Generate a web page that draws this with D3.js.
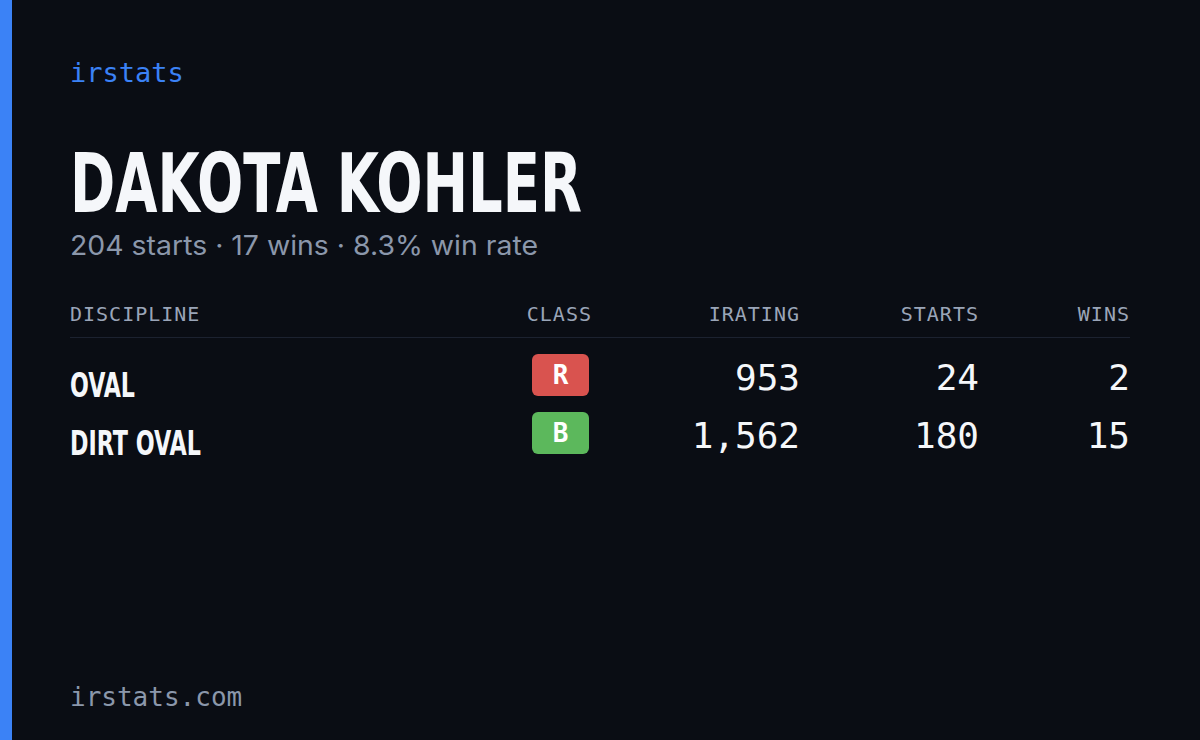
<!DOCTYPE html><html><head><meta charset="utf-8"><script src="https://cdn.jsdelivr.net/npm/d3@7"></script>
<style>body{margin:0;background:#0a0d14}</style></head><body><svg id="c" width="1200" height="740"></svg>
<script>
const brand="irstats", driver="DAKOTA KOHLER", summary="204 starts · 17 wins · 8.3% win rate", footer="irstats.com";
const headers=["DISCIPLINE","CLASS","IRATING","STARTS","WINS"];
const disciplines=["OVAL","DIRT OVAL"];
const classes=["R","B"];
const iratings=[953,1562];
const starts=[24,180];
const wins=[2,15];
const classColors={R:"#d9534f",B:"#5cb85c"};
const svg=d3.select("#c");
const mono="'DejaVu Sans Mono', monospace", cond="'DejaVu Sans Condensed','Liberation Sans',sans-serif";
svg.append("rect").attr("width",1200).attr("height",740).attr("fill","#0a0d14");
svg.append("rect").attr("width",12).attr("height",740).attr("fill","#3b82f6");
svg.append("text").attr("x",70).attr("y",82).text(brand).attr("fill","#3b82f6").attr("font-family",mono).attr("font-size",27);
svg.append("text").attr("x",70).attr("y",212).text(driver).attr("fill","#f5f7fa").attr("font-family",cond).attr("font-weight","bold").attr("font-size",82).attr("textLength",512).attr("lengthAdjust","spacingAndGlyphs");
svg.append("text").attr("x",70).attr("y",255).text(summary).attr("fill","#8b97ab").attr("font-family","Inter, sans-serif").attr("font-size",27).attr("textLength",468).attr("lengthAdjust","spacingAndGlyphs");
const hx=[70,592,800,979,1130], anchors=["start","end","end","end","end"];
headers.forEach((h,i)=>svg.append("text").attr("x",hx[i]).attr("y",321).text(h).attr("text-anchor",anchors[i]).attr("fill","#9aa5b8").attr("font-family",mono).attr("font-size",20).attr("letter-spacing",1));
svg.append("line").attr("x1",70).attr("x2",1130).attr("y1",337.5).attr("y2",337.5).attr("stroke","#1c2230");
const y=d3.scalePoint().domain(disciplines).range([375,433]);
const labelW=[65,131];
const fmt=d3.format(",");
disciplines.forEach((d,i)=>{
  const cy=y(d);
  svg.append("text").attr("x",70).attr("y",cy+22).text(d).attr("fill","#f5f7fa").attr("font-family",cond).attr("font-weight","bold").attr("font-size",33).attr("textLength",labelW[i]).attr("lengthAdjust","spacingAndGlyphs");
  svg.append("rect").attr("x",532).attr("y",cy-21).attr("width",57).attr("height",42).attr("rx",6).attr("fill",classColors[classes[i]]);
  svg.append("text").attr("x",560.5).attr("y",cy+9).text(classes[i]).attr("text-anchor","middle").attr("fill","#fff").attr("font-family",mono).attr("font-weight","bold").attr("font-size",26);
  [iratings[i],starts[i],wins[i]].forEach((v,j)=>svg.append("text").attr("x",hx[j+2]).attr("y",cy+15).text(fmt(v)).attr("text-anchor","end").attr("fill","#f5f7fa").attr("font-family",mono).attr("font-size",36));
});
svg.append("text").attr("x",70).attr("y",706).text(footer).attr("fill","#8b97ab").attr("font-family",mono).attr("font-size",26);
</script></body></html>
